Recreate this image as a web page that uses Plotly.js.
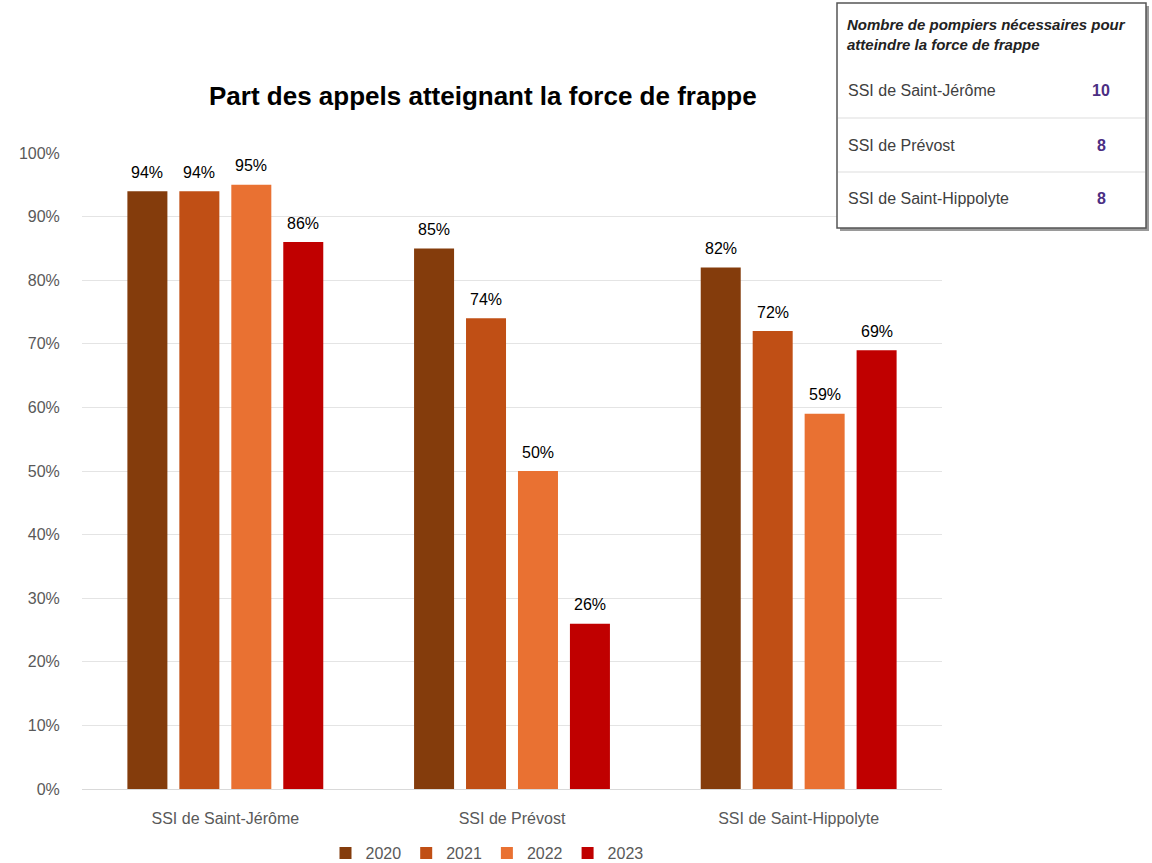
<!DOCTYPE html>
<html>
<head>
<meta charset="utf-8">
<script src="https://cdn.plot.ly/plotly-3.0.1.min.js"></script>
<style>html,body{margin:0;padding:0;background:#fff;}#chart{width:1152px;height:863px;}</style>
</head>
<body>
<div id="chart"></div>
<script>
const categories = ["SSI de Saint-Jérôme", "SSI de Prévost", "SSI de Saint-Hippolyte"];
const years = ["2020", "2021", "2022", "2023"];
const values2020 = [94, 85, 82];
const values2021 = [94, 74, 72];
const values2022 = [95, 50, 59];
const values2023 = [86, 26, 69];
const colors = ["#843C0C", "#C04F15", "#E97132", "#C00000"];
const tableTitle = "Nombre de pompiers nécessaires pour<br>atteindre la force de frappe";
const tableNames = ["SSI de Saint-Jérôme", "SSI de Prévost", "SSI de Saint-Hippolyte"];
const tableValues = [10, 8, 8];

const series = [values2020, values2021, values2022, values2023];
const traces = series.map((v, i) => ({
  type: 'bar', x: categories, y: v, name: years[i],
  marker: {color: colors[i]},
  hoverinfo: 'skip'
}));

// pixel -> paper helpers (plot area: x 82..942, y 153..789)
const L = 82, R = 942, T = 153, B = 789;
const px = x => (x - L) / (R - L);
const py = y => (B - y) / (B - T);
const bargap = 0.275;
const slot = (R - L) / categories.length * (1 - bargap) / series.length;

const shapes = [
  {type: 'rect', xref: 'paper', yref: 'paper', x0: px(840), x1: px(1149), y0: py(231), y1: py(6), fillcolor: '#9a9a9a', line: {width: 0}, layer: 'above'},
  {type: 'rect', xref: 'paper', yref: 'paper', x0: px(837), x1: px(1146), y0: py(228), y1: py(3), fillcolor: '#ffffff', line: {color: '#555555', width: 1.5}, layer: 'above'},
  {type: 'line', xref: 'paper', yref: 'paper', x0: px(838), x1: px(1145), y0: py(118), y1: py(118), line: {color: '#dddddd', width: 1}, layer: 'above'},
  {type: 'line', xref: 'paper', yref: 'paper', x0: px(838), x1: px(1145), y0: py(172), y1: py(172), line: {color: '#dddddd', width: 1}, layer: 'above'}
];

const annotations = [
  {text: 'Part des appels atteignant la force de frappe', xref: 'paper', yref: 'paper', x: px(483), y: py(96), xanchor: 'center', yanchor: 'middle', showarrow: false,
   font: {family: 'Liberation Sans, Arial, sans-serif', size: 26, color: '#000', weight: 'bold'}},
  {text: '<b><i>' + tableTitle + '</i></b>', xref: 'paper', yref: 'paper', x: px(845), y: py(35), xanchor: 'left', yanchor: 'middle', align: 'left', showarrow: false,
   font: {family: 'Liberation Sans, Arial, sans-serif', size: 15, color: '#222'}}
];
const rowY = [91, 145, 198];
tableNames.forEach((n, i) => {
  annotations.push({text: n, xref: 'paper', yref: 'paper', x: px(846), y: py(rowY[i]), xanchor: 'left', yanchor: 'middle', showarrow: false,
    font: {family: 'Liberation Sans, Arial, sans-serif', size: 16, color: '#404040'}});
  annotations.push({text: '<b>' + tableValues[i] + '</b>', xref: 'paper', yref: 'paper', x: px(1101), y: py(rowY[i]), xanchor: 'center', yanchor: 'middle', showarrow: false,
    font: {family: 'Liberation Sans, Arial, sans-serif', size: 16, color: '#4B2E83'}});
});
// bar value labels, placed via the axes
series.forEach((v, i) => {
  v.forEach((d, j) => {
    annotations.push({text: d + '%', xref: 'x', yref: 'y', x: categories[j], y: d, xshift: (i - (series.length - 1) / 2) * slot, yshift: 19,
      xanchor: 'center', yanchor: 'middle', showarrow: false,
      font: {family: 'Liberation Sans, Arial, sans-serif', size: 16, color: '#000'}});
  });
});

const layout = {
  width: 1152, height: 863,
  margin: {l: L, r: 1152 - R, t: T, b: 863 - B, pad: 0, autoexpand: false},
  paper_bgcolor: '#fff', plot_bgcolor: '#fff',
  barmode: 'group', bargap: bargap, bargroupgap: 0.23,
  font: {family: 'Liberation Sans, Arial, sans-serif', size: 16, color: '#595959'},
  xaxis: {tickfont: {size: 16, color: '#595959'}, showline: true, linecolor: '#d9d9d9', linewidth: 1, ticks: 'outside', ticklen: 15, tickcolor: 'rgba(0,0,0,0)', showgrid: false, fixedrange: true, automargin: false},
  yaxis: {range: [0, 100], dtick: 10, ticksuffix: '%', tickfont: {size: 16, color: '#595959'}, showgrid: true, gridcolor: '#e4e4e4', gridwidth: 1, zeroline: false, ticks: 'outside', ticklen: 18, tickcolor: 'rgba(0,0,0,0)', fixedrange: true, automargin: false},
  showlegend: true,
  legend: {orientation: 'h', x: px(487), y: py(853), xanchor: 'center', yanchor: 'middle', font: {size: 16, color: '#595959'}, itemwidth: 30, traceorder: 'normal'},
  shapes: shapes, annotations: annotations
};

Plotly.newPlot('chart', traces, layout, {displayModeBar: false, staticPlot: true});
</script>
</body>
</html>
